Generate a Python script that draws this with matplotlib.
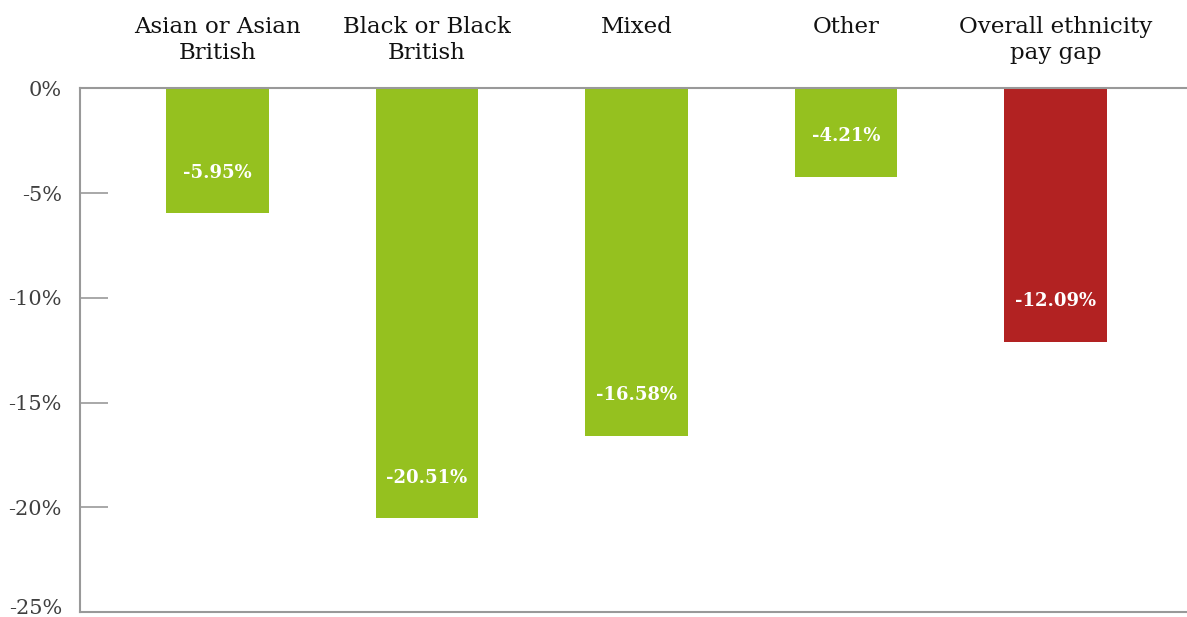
import matplotlib
matplotlib.use("Agg")
import matplotlib.pyplot as plt
import matplotlib.transforms as mtransforms

groups = ["Asian or Asian\nBritish", "Black or Black\nBritish", "Mixed", "Other",
          "Overall ethnicity\npay gap"]
gaps = [-5.95, -20.51, -16.58, -4.21, -12.09]
bar_colors = ["#95c11f", "#95c11f", "#95c11f", "#95c11f", "#b22222"]
y_ticks = [0, -5, -10, -15, -20, -25]

plt.rcParams["font.family"] = ["DejaVu Serif"]

fig = plt.figure(figsize=(11.87, 6.17), dpi=100)
ax = fig.add_axes([0.0674, 0.0081, 0.9326, 0.8487])

x = list(range(len(groups)))
ax.bar(x, gaps, width=0.49, color=bar_colors)

# value labels sit a little above the end of each bar
for xi, v in zip(x, gaps):
    ax.annotate(f"{v:.2f}%", (xi, v), xytext=(0, 29), textcoords="offset points",
                ha="center", va="center", color="white", fontsize=13,
                fontweight="bold")

ax.set_xlim(-0.656, 4.628)
ax.set_ylim(-25, 0)
ax.set_xticks([])
ax.set_yticks(y_ticks)
ax.set_yticklabels([f"{t}%" for t in y_ticks], fontsize=15, color="#404040")
ax.tick_params(axis="y", direction="in", length=20, width=1.2, color="#999999", pad=13)

# keep the bottom tick label inside the figure
last = ax.get_yticklabels()[-1]
last.set_transform(last.get_transform() + mtransforms.ScaledTranslation(0, 6 / 100, fig.dpi_scale_trans))

for side in ["left", "bottom", "top"]:
    ax.spines[side].set_color("#999999")
    ax.spines[side].set_linewidth(1.5)
ax.spines["right"].set_visible(False)

# category names above the plot
trans = mtransforms.blended_transform_factory(ax.transData, fig.transFigure)
for xi, name in zip(x, groups):
    ax.text(xi, 0.974, name, transform=trans, ha="center", va="top",
            fontsize=16.5, color="#111111", linespacing=1.25)

fig.savefig("out.png", dpi=100)
